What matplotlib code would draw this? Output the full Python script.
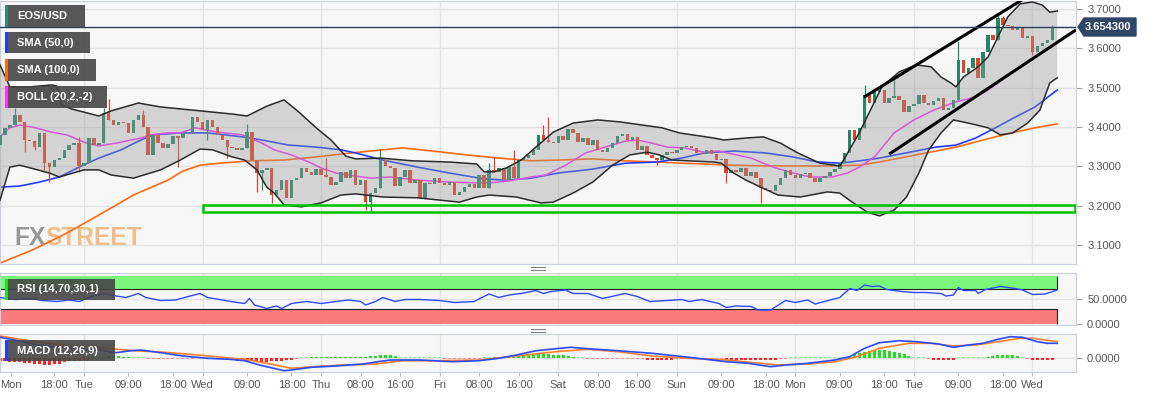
import numpy as np
import matplotlib
matplotlib.use("Agg")
import matplotlib.pyplot as plt
from matplotlib import font_manager
from matplotlib.patches import Rectangle, Polygon
from matplotlib.lines import Line2D

W, H = 1153, 398

# ---------------- data (x = hours since first Monday 00:00) ----------------
first_hour = 7
first_open = 3.354
closes = [
    3.380, 3.398, 3.405, 3.431, 3.413, 3.367, 3.364, 3.349, 3.385, 3.308,   # h7
    3.298, 3.316, 3.321, 3.342, 3.354, 3.359, 3.301, 3.308, 3.372, 3.354,   # h17
    3.359, 3.436, 3.418, 3.405, 3.413, 3.410, 3.385, 3.418, 3.431, 3.400,   # h27
    3.329, 3.380, 3.359, 3.347, 3.357, 3.377, 3.372, 3.385, 3.387, 3.425,   # h37
    3.413, 3.392, 3.418, 3.400, 3.380, 3.367, 3.349, 3.347, 3.342, 3.347,   # h47
    3.387, 3.316, 3.283, 3.291, 3.296, 3.227, 3.240, 3.265, 3.220, 3.265,   # h57
    3.270, 3.296, 3.286, 3.278, 3.293, 3.278, 3.273, 3.253, 3.260, 3.286,   # h67
    3.270, 3.291, 3.253, 3.265, 3.209, 3.232, 3.245, 3.316, 3.301, 3.296,   # h77
    3.250, 3.273, 3.291, 3.258, 3.265, 3.220, 3.258, 3.255, 3.270, 3.258,   # h87
    3.253, 3.260, 3.227, 3.235, 3.248, 3.255, 3.245, 3.278, 3.245, 3.291,   # h97
    3.286, 3.296, 3.265, 3.298, 3.270, 3.316, 3.321, 3.329, 3.342, 3.380,   # h107
    3.367, 3.362, 3.359, 3.377, 3.367, 3.395, 3.385, 3.362, 3.372, 3.354,   # h117
    3.367, 3.342, 3.336, 3.347, 3.359, 3.377, 3.382, 3.367, 3.375, 3.342,   # h127
    3.352, 3.329, 3.321, 3.316, 3.329, 3.336, 3.334, 3.342, 3.349, 3.352,   # h137
    3.347, 3.334, 3.331, 3.342, 3.331, 3.316, 3.319, 3.283, 3.291, 3.286,   # h147
    3.296, 3.275, 3.286, 3.270, 3.245, 3.240, 3.237, 3.253, 3.270, 3.291,   # h157
    3.278, 3.270, 3.281, 3.283, 3.270, 3.260, 3.270, 3.275, 3.286, 3.293,   # h167
    3.308, 3.334, 3.392, 3.367, 3.398, 3.481, 3.461, 3.489, 3.494, 3.461,   # h177
    3.474, 3.479, 3.469, 3.438, 3.453, 3.459, 3.481, 3.461, 3.456, 3.466,   # h187
    3.474, 3.443, 3.448, 3.469, 3.570, 3.537, 3.550, 3.575, 3.525, 3.591,   # h197
    3.634, 3.621, 3.677, 3.659, 3.657, 3.647, 3.652, 3.626, 3.631, 3.591,   # h207
    3.606, 3.614, 3.621, 3.654,                                             # h217
]
wick_hi = {10: 3.448, 23: 3.375, 28: 3.448, 29: 3.471, 36: 3.443, 57: 3.408,
           73: 3.321, 84: 3.344, 106: 3.308, 107: 3.324, 111: 3.342,
           117: 3.405, 118: 3.425, 182: 3.507, 188: 3.520, 201: 3.619,
           209: 3.687, 210: 3.682, 220: 3.659}
wick_lo = {12: 3.336, 14: 3.342, 16: 3.291, 17: 3.260, 23: 3.286, 43: 3.298,
           49: 3.367, 53: 3.321, 59: 3.235, 60: 3.240, 62: 3.207, 81: 3.189,
           82: 3.181, 140: 3.303, 154: 3.258, 161: 3.207, 216: 3.583}
last_price = 3.6543

up_h = [7, 9, 13, 17.5, 18.5, 19.5, 21.5, 27, 29.5, 35, 39.5, 46, 54, 57, 61,
        64.5, 67.5, 71, 74, 77, 79, 84, 90.5, 98, 103.5, 105, 107, 109.5,
        112.5, 115.5, 119, 123, 128, 132.5, 137, 141, 144.5, 151.5, 153.5,
        158, 161.5, 165, 168.5, 173, 177, 178, 181, 183.5, 185.5, 189, 192.5,
        195.5, 197.5, 199.5, 200.5, 202, 205, 207, 209, 211, 213.5, 216, 218,
        219.5, 221]
up_v = [3.558, 3.502, 3.502, 3.507, 3.504, 3.456, 3.446, 3.428, 3.441, 3.461,
        3.451, 3.443, 3.433, 3.428, 3.453, 3.469, 3.438, 3.398, 3.367, 3.326,
        3.319, 3.321, 3.314, 3.311, 3.306, 3.286, 3.286, 3.296, 3.316, 3.349,
        3.387, 3.410, 3.418, 3.413, 3.405, 3.398, 3.385, 3.372, 3.367, 3.372,
        3.375, 3.359, 3.334, 3.308, 3.301, 3.321, 3.387, 3.451, 3.502, 3.540,
        3.558, 3.553, 3.527, 3.512, 3.502, 3.527, 3.553, 3.578, 3.629, 3.680,
        3.713, 3.718, 3.710, 3.692, 3.695]
lo_h = [7, 9, 11, 17, 19, 24, 27, 29.5, 34, 39.5, 43.5, 47.5, 50, 54, 56.5,
        59, 61, 62.5, 64.5, 68, 72, 76, 79, 84.5, 91.5, 100, 103.5, 106,
        111.5, 116.5, 119, 123, 127, 131, 134.5, 138, 140.5, 143, 151.5, 153,
        155.5, 158, 161, 164.5, 169, 174.5, 177, 179.5, 182.5, 185, 188,
        190.5, 193, 195, 197.5, 200, 203, 207, 209.5, 212, 215, 217.5, 219.5,
        221]
lo_v = [3.214, 3.298, 3.303, 3.283, 3.273, 3.291, 3.291, 3.278, 3.270, 3.291,
        3.316, 3.344, 3.342, 3.324, 3.316, 3.291, 3.247, 3.232, 3.202, 3.197,
        3.207, 3.227, 3.230, 3.222, 3.220, 3.209, 3.222, 3.227, 3.222, 3.207,
        3.209, 3.232, 3.260, 3.303, 3.329, 3.336, 3.329, 3.316, 3.311, 3.308,
        3.283, 3.265, 3.247, 3.227, 3.222, 3.235, 3.232, 3.209, 3.184, 3.174,
        3.189, 3.222, 3.283, 3.342, 3.385, 3.418, 3.410, 3.398, 3.380, 3.385,
        3.410, 3.443, 3.512, 3.525]
mid_h = [7, 9, 11, 13.5, 17.5, 20.5, 24.5, 27, 30.5, 35.5, 37.5, 41, 43.5,
         46.5, 51, 56, 60, 62.5, 66, 69.5, 72, 75, 79, 82, 86, 91.5, 98,
         103.5, 106, 110, 114.5, 117.5, 121.5, 125.5, 129.5, 133.5, 136, 139,
         142, 145.5, 149.5, 152.5, 159, 163.5, 167.5, 171, 175.5, 178.5, 181,
         184, 188, 192, 196, 200.5, 204.5, 207, 209]
mid_v = [3.375, 3.398, 3.405, 3.400, 3.387, 3.380, 3.359, 3.352, 3.359, 3.372,
         3.380, 3.385, 3.385, 3.398, 3.387, 3.380, 3.359, 3.342, 3.329, 3.311,
         3.296, 3.283, 3.275, 3.270, 3.273, 3.265, 3.260, 3.258, 3.258, 3.263,
         3.273, 3.278, 3.303, 3.334, 3.349, 3.364, 3.367, 3.359, 3.349, 3.347,
         3.336, 3.339, 3.321, 3.298, 3.283, 3.273, 3.273, 3.283, 3.298, 3.324,
         3.385, 3.418, 3.443, 3.464, 3.476, 3.494, 3.512]
sma50_h = [7, 11, 15, 19, 23, 27, 31.5, 35.5, 38, 43.5, 49, 56, 60, 65.5, 71,
           76, 79, 84.5, 91.5, 98, 105, 109.5, 114.5, 120, 127, 133.5, 140,
           145, 149.5, 155.5, 162, 167.5, 172.5, 177, 181, 185, 196.5, 200.5,
           204.5, 208.5, 212.5, 216.5, 221]
sma50_v = [3.247, 3.250, 3.260, 3.273, 3.298, 3.321, 3.342, 3.367, 3.380,
           3.385, 3.385, 3.375, 3.367, 3.354, 3.349, 3.342, 3.334, 3.316,
           3.298, 3.283, 3.268, 3.265, 3.270, 3.283, 3.293, 3.308, 3.311,
           3.321, 3.334, 3.339, 3.334, 3.324, 3.311, 3.308, 3.314, 3.321,
           3.349, 3.354, 3.372, 3.398, 3.425, 3.451, 3.494]
sma100_h = [7, 13.5, 20.5, 27, 34, 41, 44, 47.5, 51.5, 57.5, 64.5, 71, 78,
            84.5, 88.5, 94.5, 101.5, 108, 114.5, 120, 127, 133.5, 140, 145,
            149.5, 155.5, 162, 169, 175.5, 181, 185, 196.5, 200.5, 204.5,
            208.5, 212.5, 216.5, 221]
sma100_v = [3.054, 3.087, 3.130, 3.176, 3.227, 3.265, 3.288, 3.303, 3.308,
            3.314, 3.316, 3.324, 3.334, 3.342, 3.347, 3.339, 3.329, 3.321,
            3.314, 3.316, 3.319, 3.314, 3.311, 3.308, 3.306, 3.303, 3.301,
            3.301, 3.301, 3.303, 3.311, 3.339, 3.349, 3.362, 3.375, 3.387,
            3.398, 3.408]
chan_up_h, chan_up_v = [181.9, 214.5], [3.476, 3.728]
chan_lo_h, chan_lo_v = [187.0, 224.8], [3.331, 3.647]
support_h = [48, 224.6]
support_v = [3.184, 3.202]

rsi_h = [7, 10, 13.5, 15.5, 18.5, 21, 23, 25.5, 28, 30.5, 32.5, 35, 36.5,
         39.5, 42.5, 45.5, 47.5, 49, 52, 55, 56.5, 57.5, 58.5, 61, 63, 64, 66,
         69, 72, 75, 77.5, 80, 81, 83, 84.5, 87, 89, 92, 96, 99, 103, 104.5,
         106, 108, 110, 112.5, 115.5, 117, 118.5, 121.5, 123, 126, 129, 133.5,
         136, 138.5, 142, 145, 146.5, 149, 152.5, 154, 156, 159, 160.5, 163,
         166, 168, 170.5, 172, 175, 177, 179, 180.5, 182, 183.5, 185, 186.5,
         189.5, 192, 194.5, 197.5, 198.5, 200, 201, 202, 204.5, 205, 206.5,
         209.5, 212.5, 214, 216, 218.5, 221]
rsi_v = [53, 49, 51, 47, 45, 48, 45, 55, 61, 56, 53, 61, 53, 47, 48, 56, 61,
         53, 48, 43, 41, 51, 38, 31, 36, 31, 41, 45, 41, 45, 48, 45, 38, 45,
         53, 45, 49, 49, 47, 43, 45, 53, 60, 53, 58, 61, 67, 61, 65, 68, 61,
         61, 51, 61, 55, 45, 47, 49, 45, 49, 41, 33, 36, 35, 28, 28, 47, 43,
         48, 40, 48, 53, 71, 67, 78, 75, 76, 69, 65, 63, 63, 61, 56, 58, 73,
         67, 67, 61, 69, 75, 71, 68, 59, 60, 68]

macd_h = [7, 10, 14.5, 19.5, 24, 27, 30.5, 33.5, 35.5, 39.5, 44, 49, 53.5,
          56.5, 59.5, 64.5, 66, 70, 75, 80.5, 83.5, 86, 92, 98.5, 104, 108,
          111.5, 115.5, 119.5, 122.5, 126, 132, 139, 146.5, 154, 158.5, 163,
          166, 170.5, 176, 179, 182, 185, 189, 192.5, 197, 200, 203, 206, 209,
          211.5, 214, 217, 219, 221]
macd_v = [20.7, 18, 13, 10.7, 8.7, 8, 5.3, 7.3, 8, 5.3, 2, -0.3, -1.3, -2.7,
          -7, -12.7, -12, -9.3, -8, -6, -3.7, -2, -2, -3.7, -2.7, -0.3, 3,
          7.3, 9.3, 10.7, 9.3, 7.3, 4.7, 0.7, -3.7, -5.3, -8.7, -7, -5.3, -2,
          1.3, 9.7, 15.3, 17.3, 16.3, 14, 10.7, 13, 14.7, 18.7, 21.3, 20.7,
          16.3, 14.7, 14.7]
signal_h = [7, 14.5, 22.5, 28.5, 34, 39.5, 45.5, 52, 56.5, 61, 66, 70.5, 76.5,
            83, 88.5, 96, 104, 111.5, 119.5, 126, 132, 139, 146.5, 154, 164.5,
            170.5, 176, 180.5, 185, 191, 195.5, 200, 204.5, 209, 213.5, 216,
            221]
signal_v = [22, 16, 11.3, 9.7, 7.3, 6, 3.7, 0.7, -1.3, -5.3, -10.3, -8.7, -7,
            -6, -2.7, -2.7, -2, 2, 6.3, 8.7, 6.3, 2, -0.3, -2, -7, -6, -3.7,
            1.3, 9.7, 14.7, 14.7, 12, 13, 16.3, 19.7, 19.7, 16.3]
hist = [
    -2.5, -3, -3.5, -3.5, -4, -4.5, -5, -5.5, -6, -6.5,            # h7
    -6.5, -6, -5.5, -4, -3, -2.5, -2, -2, -1.5, 1.2,               # h17
    1, 1.5, 2, 2, 2, 1.5, 1.5, 1, 1, 1.2,                          # h27
    -1.2, -1, -1, -1, -1, -1, -1, -1, -1, -1.2,                    # h37
    1, 1, 1, 1, 1, -1, -1.5, -2, -2.5, -3,                         # h47
    -3, -3, -3.5, -3.5, -3.5, -3, -3, -2.5, -2, -1.5,              # h57
    -1.2, 1, 1, 1.5, 1.5, 1.5, 1.5, 1.5, 1.5, 1.5,                 # h67
    1.5, 1.5, 1.5, 1.5, 1.5, 2, 2.5, 3, 3, 3,                      # h77
    2.5, 1, 1.2, 1.2, 1.2, 1.2, 1.2, 1, 1, 1,                      # h87
    -1, -1.2, -1.2, -1.2, -1.2, -1.2, -1.2, -1.2, 1.2, 1,          # h97
    1.5, 1.5, 1.5, 1.5, 1.5, 2, 2.5, 3, 3.5, 4,                    # h107
    4, 4, 3.5, 3.5, 3, 2.5, 1.5, 1.2, 1, -1,                       # h117
    -1.4, -1.4, -1.4, -1.4, -1.4, -1.4, -1.4, -1.4, -1.4, -1.4,    # h127
    -1.4, -1.5, -2, -2, -2, -2, -1.5, -1.2, -1.2, -1.2,            # h137
    -1.2, -1.2, -1.2, -1.2, -1.2, -1.2, -1.4, -1.5, -1.5, -1.5,    # h147
    -1.5, -1.5, -1.5, -1.5, -1.5, -1.5, -1.5, -1.5, -1.2, -1,      # h157
    1, 1, 1, 1, 1, 1, 1, 1, 1, 1,                                  # h167
    1.3, 1.3, 2, 4, 5, 6.3, 7, 8, 8, 8,                            # h177
    7, 6.3, 5, 4, 2, 1.4, 1.2, 1, -1, -1.5,                        # h187
    -1.5, -1.5, -1.5, -1.5, 1.4, 1.4, 1.4, 1.4, 1.4, 1.4,          # h197
    1.5, 2.5, 3, 3.5, 3.5, 3, 2, 1.2, -1, -1.5,                    # h207
    -1.5, -1.5, -1.5, -1.5,                                        # h217
]

day_lines = [24, 48, 72, 96, 120, 144, 168, 192, 216]
tick_hours = [9.3, 18, 24, 33, 42, 48, 57, 66, 72, 80, 88, 96, 104, 112, 120,
              128, 136, 144, 153, 162, 168, 177, 186, 192, 201, 210, 216]
tick_labels = ['Mon', '18:00', 'Tue', '09:00', '18:00', 'Wed', '09:00',
               '18:00', 'Thu', '08:00', '16:00', 'Fri', '08:00', '16:00',
               'Sat', '08:00', '16:00', 'Sun', '09:00', '18:00', 'Mon',
               '09:00', '18:00', 'Tue', '09:00', '18:00', 'Wed']
price_ticks = [3.1, 3.2, 3.3, 3.4, 3.5, 3.6, 3.7]

# ---------------- style ----------------
plt.rcParams['font.family'] = ['Liberation Sans', 'DejaVu Sans']
UP, DOWN = '#24876a', '#e0432c'
GRID, SPINE, TXT = '#e3e3e3', '#c9cfdf', '#555555'
X0, X1 = 6.996, 224.81


def px_axes(fig, top, bottom):
    """Axes spanning the plot width between two pixel rows."""
    return fig.add_axes([0, 1 - bottom / H, 1076 / W, (bottom - top) / H])


def style_axes(ax):
    ax.set_facecolor('#f7f7f7')
    ax.set_xlim(X0, X1)
    for s in ax.spines.values():
        s.set_color(SPINE)
    ax.tick_params(axis='y', left=False, labelleft=False, right=True,
                   labelright=True, length=4, color='#a0a0a0',
                   labelcolor=TXT, labelsize=8, pad=4)
    ax.tick_params(axis='x', bottom=False, labelbottom=False)
    for d in day_lines:
        ax.axvline(d, color=GRID, lw=1, zorder=0.5)


def fig_rect(fig, x0, y0, x1, y1, **kw):
    r = Rectangle((x0 / W, 1 - y1 / H), (x1 - x0) / W, (y1 - y0) / H,
                  transform=fig.transFigure, **kw)
    fig.add_artist(r)


def tag(fig, x0, y0, x1, y1, text, strip):
    fig_rect(fig, x0, y0, x1, y1, color='#464646', alpha=0.9, lw=0, zorder=20)
    fig_rect(fig, x0, y0, x0 + 3, y1, color=strip, lw=0, zorder=21)
    fig.text((x0 + 12) / W, 1 - (y0 + y1) / 2 / H, text, color='white',
             fontsize=8, fontweight='bold', va='center', ha='left', zorder=22)


fig = plt.figure(figsize=(W / 100, H / 100), dpi=100)

# ---------------- main price panel ----------------
ax = px_axes(fig, 1, 264)
style_axes(ax)
ax.set_ylim(3.0517, 3.7204)
ax.set_yticks(price_ticks)
ax.set_yticklabels([f'{v:.4f}' for v in price_ticks])
for v in price_ticks:
    ax.axhline(v, color=GRID, lw=1, zorder=0.5)

ax.plot(sma100_h, sma100_v, color='#ff6a10', lw=1.2, zorder=2)
ax.plot(sma50_h, sma50_v, color='#1f3dff', lw=1.2, zorder=2)
ax.plot(mid_h, mid_v, color='#ff30ff', lw=1.1, zorder=2)

hours = first_hour + np.arange(len(closes))
c = np.array(closes)
o = np.r_[first_open, c[:-1]]
rising = c >= o
cols = np.where(rising, UP, DOWN)
ax.bar(hours, np.maximum(np.abs(c - o), 0.002), bottom=np.minimum(o, c),
       width=0.7, color=cols, lw=0, zorder=3)
for h, oo, cc, col in zip(hours, o, c, cols):
    hi = wick_hi.get(int(h), max(oo, cc))
    lo = wick_lo.get(int(h), min(oo, cc))
    if hi > max(oo, cc) or lo < min(oo, cc):
        ax.vlines(h, lo, hi, color=col, lw=0.9, zorder=3)

# Bollinger envelope drawn translucent over price and averages
ax.fill(up_h + lo_h[::-1], up_v + lo_v[::-1], color='#9a9a9a', alpha=0.38,
        lw=0, zorder=4)
ax.plot(up_h, up_v, color='#2b2b2b', lw=1.1, zorder=5)
ax.plot(lo_h, lo_v, color='#2b2b2b', lw=1.1, zorder=5)

ax.plot(chan_up_h, chan_up_v, color='black', lw=2.2, zorder=6,
        solid_capstyle='butt')
ax.plot(chan_lo_h, chan_lo_v, color='black', lw=2.2, zorder=6,
        solid_capstyle='butt')
ax.add_patch(Rectangle((support_h[0], support_v[0]),
                       support_h[1] - support_h[0],
                       support_v[1] - support_v[0],
                       fill=False, edgecolor='#00c400', lw=1.8, zorder=6))
ax.axhline(last_price, color='#2c3e55', lw=1, zorder=6)

# watermark
names = {f.name for f in font_manager.fontManager.ttflist}
narrow = next((n for n in ['Liberation Sans Narrow', 'DejaVu Sans Condensed']
               if n in names), 'Liberation Sans')
renderer = fig.canvas.get_renderer()
probe = fig.text(0, 0, 'FXSTREET', family=narrow, weight='bold', size=20)
wsize = 20 * 128 / probe.get_window_extent(renderer).width
probe.remove()
fx = ax.text(14 / W, 1 - 245 / H, 'FX', family=narrow, weight='bold',
             size=wsize, color='#979797', transform=fig.transFigure,
             va='baseline', zorder=0.8)
bb = fx.get_window_extent(renderer)
ax.text(bb.x1 / W, 1 - 245 / H, 'STREET', family=narrow, weight='bold',
        size=wsize, color='#f0bd86', transform=fig.transFigure,
        va='baseline', zorder=0.8)

# ---------------- RSI panel ----------------
ar = px_axes(fig, 273, 325)
style_axes(ar)
ar.set_ylim(-2, 102)
ar.set_yticks([0, 50])
ar.set_yticklabels(['0.0000', '50.0000'])
ar.axhline(50, color=GRID, lw=1, zorder=0.5)
rend = rsi_h[-1]
ar.fill_between([X0, rend], 70, 97, color='#7af77a', lw=0, zorder=1)
ar.fill_between([X0, rend], 0, 30, color='#f87a7a', lw=0, zorder=1)
ar.plot([X0, rend], [70, 70], color='#222222', lw=0.8, zorder=2)
ar.plot([X0, rend], [30, 30], color='#222222', lw=0.8, zorder=2)
ar.vlines(rend, 70, 97, color='#222222', lw=0.8, zorder=2)
ar.vlines(rend, 0, 30, color='#222222', lw=0.8, zorder=2)
ar.plot(rsi_h, rsi_v, color='#2a4bff', lw=1, zorder=3)

# ---------------- MACD panel ----------------
am = px_axes(fig, 334, 372)
style_axes(am)
am.set_ylim(-14, 24)
am.set_yticks([0])
am.set_yticklabels(['0.0000'])
am.axhline(0, color=GRID, lw=1, zorder=0.5)
hh = first_hour + np.arange(len(hist))
hv = np.array(hist)
hcol = np.where(hv > 0, np.where(hv >= 1.5, '#1ee01e', '#8ef08e'),
                np.where(hv <= -1.5, '#ff2020', '#ff8c8c'))
am.bar(hh, hv, width=0.6, color=hcol, lw=0, zorder=2)
am.plot(signal_h, signal_v, color='#ff7f27', lw=1.2, zorder=3)
am.plot(macd_h, macd_v, color='#2a4bff', lw=1.2, zorder=4)
am.tick_params(axis='x', bottom=True, labelbottom=True, length=3,
               color='#c0c0c0', labelcolor=TXT, labelsize=8, pad=3)
am.set_xticks(tick_hours)
am.set_xticklabels(tick_labels)

# ---------------- overlays: legends, price tag, handles ----------------
tag(fig, 5, 5, 85, 27, 'EOS/USD', '#2f8a70')
tag(fig, 5, 32, 90, 53, 'SMA (50,0)', '#1f3dff')
tag(fig, 5, 59, 96, 81, 'SMA (100,0)', '#ff6a10')
tag(fig, 5, 86, 107, 108, 'BOLL (20,2,-2)', '#ff30ff')
tag(fig, 5, 279, 115, 300, 'RSI (14,70,30,1)', '#22dd22')
tag(fig, 5, 340, 115, 361, 'MACD (12,26,9)', '#1f3dff')

pts = [(1078, 27), (1084, 18), (1136, 18), (1136, 36), (1084, 36)]
fig.add_artist(Polygon([(x / W, 1 - y / H) for x, y in pts], closed=True,
                       transform=fig.transFigure, color='#2f4666', zorder=20))
fig.text(1085 / W, 1 - 27 / H, f'{last_price:.6f}', color='white',
         fontsize=8, fontweight='bold', va='center', ha='left', zorder=22)

for yy in (266.5, 269.5, 328.5, 331.5):
    fig.add_artist(Line2D([531 / W, 545 / W], [1 - yy / H, 1 - yy / H],
                          transform=fig.transFigure, color='#808080', lw=0.8))

fig.savefig('out.png', dpi=100, facecolor='white')
